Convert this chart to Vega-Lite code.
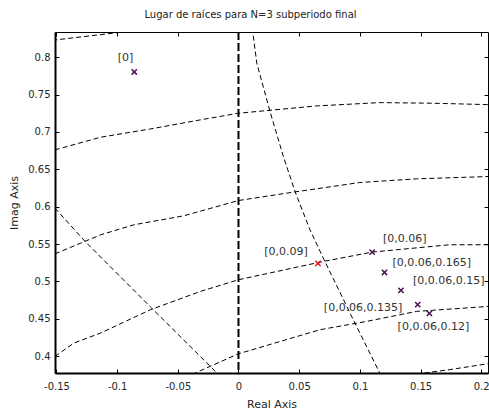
{
  "$schema": "https://vega.github.io/schema/vega-lite/v6.json",
  "width": 433,
  "height": 341,
  "autosize": {"type": "none"},
  "padding": {"left": 55, "top": 32, "right": 1, "bottom": 37},
  "title": {"text": "Lugar de raíces para N=3 subperiodo final", "font": "DejaVu Sans", "fontSize": 10, "fontWeight": "normal", "color": "#222222", "offset": 11, "dx": -21},
  "config": {
    "view": {"stroke": "#000000", "strokeWidth": 1},
    "axis": {"grid": false, "domainColor": "#000000", "tickColor": "#000000", "labelFont": "DejaVu Sans", "labelFontSize": 10, "labelColor": "#262626", "titleFont": "DejaVu Sans", "titleFontSize": 11, "titleFontWeight": "normal", "titleColor": "#262626"}
  },
  "datasets": {
    "lines": [
      {"id": "A", "i": 0, "x": -0.16, "y": 0.8215},
      {"id": "A", "i": 1, "x": -0.1512, "y": 0.8231},
      {"id": "A", "i": 2, "x": -0.0999, "y": 0.8329},
      {"id": "A", "i": 3, "x": -0.05, "y": 0.841},
      {"id": "B", "i": 0, "x": -0.1512, "y": 0.6761},
      {"id": "B", "i": 1, "x": -0.1136, "y": 0.693},
      {"id": "B", "i": 2, "x": -0.0725, "y": 0.7041},
      {"id": "B", "i": 3, "x": -0.0315, "y": 0.7162},
      {"id": "B", "i": 4, "x": 0, "y": 0.7251},
      {"id": "B", "i": 5, "x": 0.0644, "y": 0.7349},
      {"id": "B", "i": 6, "x": 0.1164, "y": 0.7393},
      {"id": "B", "i": 7, "x": 0.16, "y": 0.7385},
      {"id": "B", "i": 8, "x": 0.2059, "y": 0.7366},
      {"id": "C", "i": 0, "x": -0.1512, "y": 0.537},
      {"id": "C", "i": 1, "x": -0.1136, "y": 0.5624},
      {"id": "C", "i": 2, "x": -0.0863, "y": 0.5758},
      {"id": "C", "i": 3, "x": -0.0452, "y": 0.5878},
      {"id": "C", "i": 4, "x": 0, "y": 0.6083},
      {"id": "C", "i": 5, "x": 0.0452, "y": 0.6195},
      {"id": "C", "i": 6, "x": 0.1, "y": 0.6324},
      {"id": "C", "i": 7, "x": 0.1466, "y": 0.6373},
      {"id": "C", "i": 8, "x": 0.206, "y": 0.6404},
      {"id": "D", "i": 0, "x": -0.1512, "y": 0.3997},
      {"id": "D", "i": 1, "x": -0.1356, "y": 0.4176},
      {"id": "D", "i": 2, "x": -0.1136, "y": 0.431},
      {"id": "D", "i": 3, "x": -0.0725, "y": 0.4622},
      {"id": "D", "i": 4, "x": -0.0315, "y": 0.4866},
      {"id": "D", "i": 5, "x": 0, "y": 0.5023},
      {"id": "D", "i": 6, "x": 0.0698, "y": 0.5267},
      {"id": "D", "i": 7, "x": 0.1101, "y": 0.5393},
      {"id": "D", "i": 8, "x": 0.1739, "y": 0.5491},
      {"id": "D", "i": 9, "x": 0.206, "y": 0.5491},
      {"id": "E", "i": 0, "x": -0.05, "y": 0.367},
      {"id": "E", "i": 1, "x": -0.0356, "y": 0.3775},
      {"id": "E", "i": 2, "x": 0, "y": 0.4033},
      {"id": "E", "i": 3, "x": 0.0096, "y": 0.4078},
      {"id": "E", "i": 4, "x": 0.0671, "y": 0.4354},
      {"id": "E", "i": 5, "x": 0.1055, "y": 0.4465},
      {"id": "E", "i": 6, "x": 0.1466, "y": 0.4599},
      {"id": "E", "i": 7, "x": 0.206, "y": 0.4666},
      {"id": "F", "i": 0, "x": 0.14, "y": 0.374},
      {"id": "F", "i": 1, "x": 0.1534, "y": 0.3775},
      {"id": "F", "i": 2, "x": 0.174, "y": 0.382},
      {"id": "F", "i": 3, "x": 0.206, "y": 0.39},
      {"id": "G", "i": 0, "x": -0.1512, "y": 0.5981},
      {"id": "G", "i": 1, "x": -0.1264, "y": 0.5535},
      {"id": "G", "i": 2, "x": -0.0716, "y": 0.4644},
      {"id": "G", "i": 3, "x": -0.0178, "y": 0.3775},
      {"id": "G", "i": 4, "x": -0.01, "y": 0.365},
      {"id": "I", "i": 0, "x": 0.0105, "y": 0.85},
      {"id": "I", "i": 1, "x": 0.0118, "y": 0.8338},
      {"id": "I", "i": 2, "x": 0.0151, "y": 0.792},
      {"id": "I", "i": 3, "x": 0.026, "y": 0.7273},
      {"id": "I", "i": 4, "x": 0.037, "y": 0.6671},
      {"id": "I", "i": 5, "x": 0.0466, "y": 0.6203},
      {"id": "I", "i": 6, "x": 0.0589, "y": 0.5691},
      {"id": "I", "i": 7, "x": 0.0712, "y": 0.5267},
      {"id": "I", "i": 8, "x": 0.0959, "y": 0.4444},
      {"id": "I", "i": 9, "x": 0.1164, "y": 0.3775},
      {"id": "I", "i": 10, "x": 0.12, "y": 0.365}
    ],
    "pts": [
      {"x": -0.0859, "y": 0.7803, "kind": "n", "label": "[0]", "lx": -0.0931, "ly": 0.7995},
      {"x": 0.0655, "y": 0.5241, "kind": "r", "label": "[0,0.09]", "lx": 0.0392, "ly": 0.5393},
      {"x": 0.1101, "y": 0.5393, "kind": "n", "label": "[0,0.06]", "lx": 0.137, "ly": 0.5562},
      {"x": 0.1203, "y": 0.512, "kind": "n", "label": "[0,0.06,0.165]", "lx": 0.1593, "ly": 0.5246},
      {"x": 0.1339, "y": 0.488, "kind": "n", "label": "[0,0.06,0.15]", "lx": 0.1733, "ly": 0.5},
      {"x": 0.1477, "y": 0.4689, "kind": "n", "label": "[0,0.06,0.135]", "lx": 0.1027, "ly": 0.4644},
      {"x": 0.1573, "y": 0.4572, "kind": "n", "label": "[0,0.06,0.12]", "lx": 0.1606, "ly": 0.439}
    ],
    "vline": [{"x": 0}]
  },
  "resolve": {"axis": {"x": "independent", "y": "independent"}},
  "layer": [
    {
      "data": {"name": "lines"},
      "mark": {"type": "line", "clip": true, "color": "#000000", "strokeWidth": 1, "strokeDash": [5, 3]},
      "encoding": {
        "x": {"field": "x", "type": "quantitative", "scale": {"domain": [-0.1512, 0.2056], "nice": false, "zero": false},
          "axis": {"orient": "bottom", "values": [-0.15, -0.1, -0.05, 0, 0.05, 0.1, 0.15, 0.2], "labelExpr": "'' + datum.value", "title": "Real Axis", "domainWidth": 2, "tickSize": -4, "labelPadding": 12, "titlePadding": 7, "labelFlush": false}},
        "y": {"field": "y", "type": "quantitative", "scale": {"domain": [0.3775, 0.8338], "nice": false, "zero": false},
          "axis": {"orient": "left", "values": [0.4, 0.45, 0.5, 0.55, 0.6, 0.65, 0.7, 0.75, 0.8], "labelExpr": "'' + datum.value", "title": "Imag Axis", "domainWidth": 2, "tickSize": -4, "labelPadding": 9, "titlePadding": 8, "labelFlush": false}},
        "detail": {"field": "id"},
        "order": {"field": "i", "type": "quantitative"}
      }
    },
    {
      "data": {"name": "vline"},
      "mark": {"type": "rule", "color": "#000000", "strokeWidth": 2, "strokeDash": [8, 3]},
      "encoding": {
        "x": {"field": "x", "type": "quantitative", "axis": {"orient": "top", "values": [-0.15, -0.1, -0.05, 0, 0.05, 0.1, 0.15, 0.2], "labels": false, "title": null, "domain": false, "tickSize": -4}}
      }
    },
    {
      "data": {"name": "pts"},
      "mark": {"type": "point", "shape": "M-1,-1L1,1M1,-1L-1,1", "filled": false, "size": 28, "strokeWidth": 1.5, "opacity": 1},
      "encoding": {
        "x": {"field": "x", "type": "quantitative", "axis": null},
        "y": {"field": "y", "type": "quantitative", "axis": {"orient": "right", "values": [0.4, 0.45, 0.5, 0.55, 0.6, 0.65, 0.7, 0.75, 0.8], "labels": false, "title": null, "domain": false, "tickSize": -4}},
        "color": {"field": "kind", "type": "nominal", "scale": {"domain": ["n", "r"], "range": ["#4a1050", "#ee1111"]}, "legend": null}
      }
    },
    {
      "data": {"name": "pts"},
      "mark": {"type": "text", "font": "DejaVu Sans", "fontSize": 11, "color": "#333333", "align": "center", "baseline": "middle"},
      "encoding": {
        "x": {"field": "lx", "type": "quantitative", "axis": null},
        "y": {"field": "ly", "type": "quantitative", "axis": null},
        "text": {"field": "label"}
      }
    }
  ]
}
